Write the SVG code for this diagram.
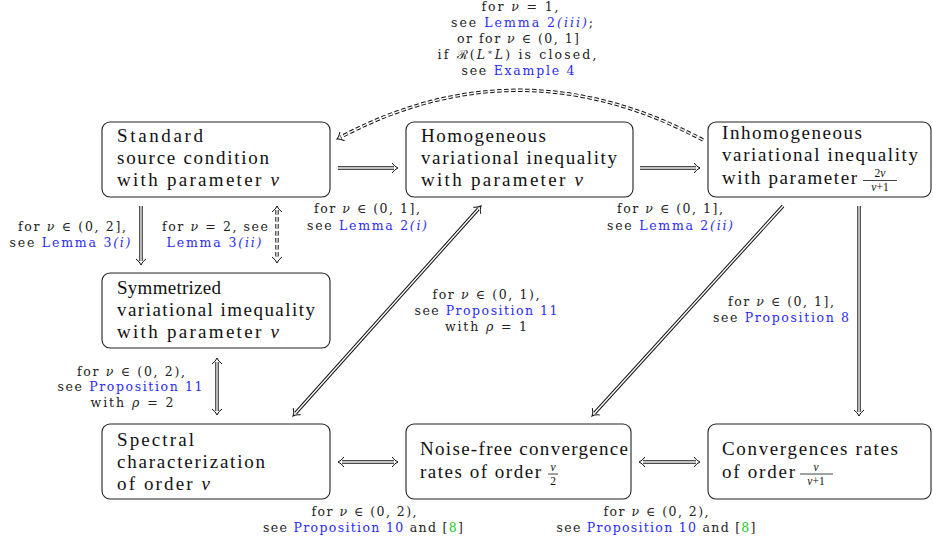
<svg xmlns="http://www.w3.org/2000/svg" width="933" height="545" viewBox="0 0 933 545">
<style>
.box{fill:#fff;stroke:#222;stroke-width:1.1}
.nt{font-family:"Liberation Serif","Times New Roman",serif;font-size:19px;fill:#111}
.fr{font-family:"Liberation Serif","Times New Roman",serif;font-size:11.5px;fill:#111}
.lb{font-family:"DejaVu Serif","Liberation Serif",serif;font-size:12.5px;fill:#222;text-anchor:middle}
.m{font-style:italic}
.bl{fill:#2b2bff}
.gr{fill:#22cc22}
.o{fill:none;stroke:#111;stroke-width:3.4}
.i{fill:none;stroke:#fff;stroke-width:1.4}
.d{stroke-dasharray:4.5 2.5}
.bar{stroke:#111;stroke-width:0.8}
</style>
<defs>
<marker id="ah" viewBox="-6 -6 12 12" markerWidth="12" markerHeight="12" refX="0" refY="0" orient="auto-start-reverse" markerUnits="userSpaceOnUse" overflow="visible">
<path d="M-2,-5 Q1,-1 4,0 Q1,1 -2,5" fill="none" stroke="#111" stroke-width="1"/>
</marker>
</defs>
<rect width="933" height="545" fill="#fff"/>

<g id="connectors">
<g id="c-std-hom"><path class="o" d="M338,168 H394" marker-end="url(#ah)"/><path class="i" d="M338,168 H394"/></g>
<g id="c-hom-inh"><path class="o" d="M640,168 H696" marker-end="url(#ah)"/><path class="i" d="M640,168 H696"/></g>
<g id="c-inh-std"><path class="o d" d="M703,140 Q520,42 340.5,137.2" marker-end="url(#ah)"/><path class="i d" d="M703,140 Q520,42 340.5,137.2"/></g>
<g id="c-std-sym"><path class="o" d="M141,206 V261" marker-end="url(#ah)"/><path class="i" d="M141,206 V261"/></g>
<g id="c-std-sym2"><path class="o d" d="M277,210 V259" marker-start="url(#ah)" marker-end="url(#ah)"/><path class="i d" d="M277,210 V259"/></g>
<g id="c-sym-spe"><path class="o" d="M217,362 V411" marker-start="url(#ah)" marker-end="url(#ah)"/><path class="i" d="M217,362 V411"/></g>
<g id="c-spe-hom"><path class="o" d="M295.7,413 L478.3,209" marker-start="url(#ah)" marker-end="url(#ah)"/><path class="i" d="M295.7,413 L478.3,209"/></g>
<g id="c-inh-noi"><path class="o" d="M783,206 L594.7,413" marker-end="url(#ah)"/><path class="i" d="M783,206 L594.7,413"/></g>
<g id="c-inh-con"><path class="o" d="M859,206 V412" marker-end="url(#ah)"/><path class="i" d="M859,206 V412"/></g>
<g id="c-spe-noi"><path class="o" d="M342,462 H394" marker-start="url(#ah)" marker-end="url(#ah)"/><path class="i" d="M342,462 H394"/></g>
<g id="c-noi-con"><path class="o" d="M643,462 H696" marker-start="url(#ah)" marker-end="url(#ah)"/><path class="i" d="M643,462 H696"/></g>
</g>

<g id="labels">
<g id="lab-top">
<text class="lb" x="520" y="11" textLength="77">for <tspan class="m">ν</tspan> = 1,</text>
<text class="lb" x="522" y="27" textLength="142">see <tspan class="bl">Lemma 2</tspan><tspan class="bl m">(iii)</tspan>;</text>
<text class="lb" x="518" y="43" textLength="122">or for <tspan class="m">ν</tspan> ∈ (0, 1]</text>
<text class="lb" x="517" y="59" textLength="159">if ℛ(<tspan class="m">L</tspan><tspan dy="-4" font-size="8">∗</tspan><tspan dy="4" class="m">L</tspan>) is closed,</text>
<text class="lb" x="518" y="75" textLength="113">see <tspan class="bl">Example 4</tspan></text>
</g>
<g id="lab-a">
<text class="lb" x="367" y="213" textLength="106">for <tspan class="m">ν</tspan> ∈ (0, 1],</text>
<text class="lb" x="367" y="230" textLength="120">see <tspan class="bl">Lemma 2</tspan><tspan class="bl m">(i)</tspan></text>
</g>
<g id="lab-b">
<text class="lb" x="670" y="213" textLength="106">for <tspan class="m">ν</tspan> ∈ (0, 1],</text>
<text class="lb" x="670" y="230" textLength="126">see <tspan class="bl">Lemma 2</tspan><tspan class="bl m">(ii)</tspan></text>
</g>
<g id="lab-c">
<text class="lb" x="72" y="231" textLength="108">for <tspan class="m">ν</tspan> ∈ (0, 2],</text>
<text class="lb" x="70" y="247" textLength="121">see <tspan class="bl">Lemma 3</tspan><tspan class="bl m">(i)</tspan></text>
</g>
<g id="lab-d">
<text class="lb" x="215" y="231" textLength="106">for <tspan class="m">ν</tspan> = 2, see</text>
<text class="lb" x="214" y="247" textLength="95"><tspan class="bl">Lemma 3</tspan><tspan class="bl m">(ii)</tspan></text>
</g>
<g id="lab-e">
<text class="lb" x="486" y="299" textLength="107">for <tspan class="m">ν</tspan> ∈ (0, 1),</text>
<text class="lb" x="486" y="315" textLength="143">see <tspan class="bl">Proposition 11</tspan></text>
<text class="lb" x="486" y="331" textLength="82">with <tspan class="m">ρ</tspan> = 1</text>
</g>
<g id="lab-f">
<text class="lb" x="781" y="306" textLength="106">for <tspan class="m">ν</tspan> ∈ (0, 1],</text>
<text class="lb" x="781" y="322" textLength="136">see <tspan class="bl">Proposition 8</tspan></text>
</g>
<g id="lab-g">
<text class="lb" x="131" y="376" textLength="108">for <tspan class="m">ν</tspan> ∈ (0, 2),</text>
<text class="lb" x="130" y="391" textLength="145">see <tspan class="bl">Proposition 11</tspan></text>
<text class="lb" x="132" y="407" textLength="83">with <tspan class="m">ρ</tspan> = 2</text>
</g>
<g id="lab-h">
<text class="lb" x="364" y="516" textLength="105">for <tspan class="m">ν</tspan> ∈ (0, 2),</text>
<text class="lb" x="363" y="532" textLength="200">see <tspan class="bl">Proposition 10</tspan> and [<tspan class="gr">8</tspan>]</text>
</g>
<g id="lab-i">
<text class="lb" x="656" y="516" textLength="105">for <tspan class="m">ν</tspan> ∈ (0, 2),</text>
<text class="lb" x="656" y="532" textLength="199">see <tspan class="bl">Proposition 10</tspan> and [<tspan class="gr">8</tspan>]</text>
</g>
</g>

<g id="n-standard">
<rect class="box" x="102" y="122" width="228" height="75" rx="8"/>
<text class="nt" x="117" y="142" textLength="86">Standard</text>
<text class="nt" x="117" y="164" textLength="152">source condition</text>
<text class="nt" x="117" y="186" textLength="162">with parameter <tspan class="m">ν</tspan></text>
</g>
<g id="n-homogeneous">
<rect class="box" x="406" y="122" width="227" height="75" rx="8"/>
<text class="nt" x="421" y="142" textLength="125">Homogeneous</text>
<text class="nt" x="421" y="164" textLength="196">variational inequality</text>
<text class="nt" x="421" y="186" textLength="162">with parameter <tspan class="m">ν</tspan></text>
</g>
<g id="n-inhomogeneous">
<rect class="box" x="708" y="122" width="223" height="75" rx="8"/>
<text class="nt" x="722" y="139" textLength="140">Inhomogeneous</text>
<text class="nt" x="722" y="161" textLength="196">variational inequality</text>
<text class="nt" x="722" y="184" textLength="135">with parameter</text>
<text class="fr" x="880" y="177" text-anchor="middle">2<tspan class="m">ν</tspan></text>
<line class="bar" x1="863" y1="180.5" x2="897" y2="180.5"/>
<text class="fr" x="880" y="191" text-anchor="middle"><tspan class="m">ν</tspan>+1</text>
</g>
<g id="n-symmetrized">
<rect class="box" x="102" y="273" width="228" height="75" rx="8"/>
<text class="nt" x="117" y="294" textLength="104">Symmetrized</text>
<text class="nt" x="117" y="316" textLength="198">variational imequality</text>
<text class="nt" x="117" y="338" textLength="162">with parameter <tspan class="m">ν</tspan></text>
</g>
<g id="n-spectral">
<rect class="box" x="102" y="424" width="228" height="75" rx="8"/>
<text class="nt" x="117" y="446" textLength="77">Spectral</text>
<text class="nt" x="117" y="468" textLength="148">characterization</text>
<text class="nt" x="117" y="490" textLength="93">of order <tspan class="m">ν</tspan></text>
</g>
<g id="n-noisefree">
<rect class="box" x="406" y="424" width="225" height="75" rx="8"/>
<text class="nt" x="420" y="455" textLength="208">Noise-free convergence</text>
<text class="nt" x="420" y="478" textLength="121">rates of order</text>
<text class="fr" x="553" y="471" text-anchor="middle" font-style="italic">ν</text>
<line class="bar" x1="548" y1="474" x2="558" y2="474"/>
<text class="fr" x="553" y="484.5" text-anchor="middle">2</text>
</g>
<g id="n-convergences">
<rect class="box" x="708" y="424" width="223" height="75" rx="8"/>
<text class="nt" x="722" y="455" textLength="176">Convergences rates</text>
<text class="nt" x="722" y="478" textLength="73">of order</text>
<text class="fr" x="816" y="471" text-anchor="middle" font-style="italic">ν</text>
<line class="bar" x1="800" y1="474" x2="833" y2="474"/>
<text class="fr" x="816" y="485" text-anchor="middle"><tspan class="m">ν</tspan>+1</text>
</g>
</svg>
